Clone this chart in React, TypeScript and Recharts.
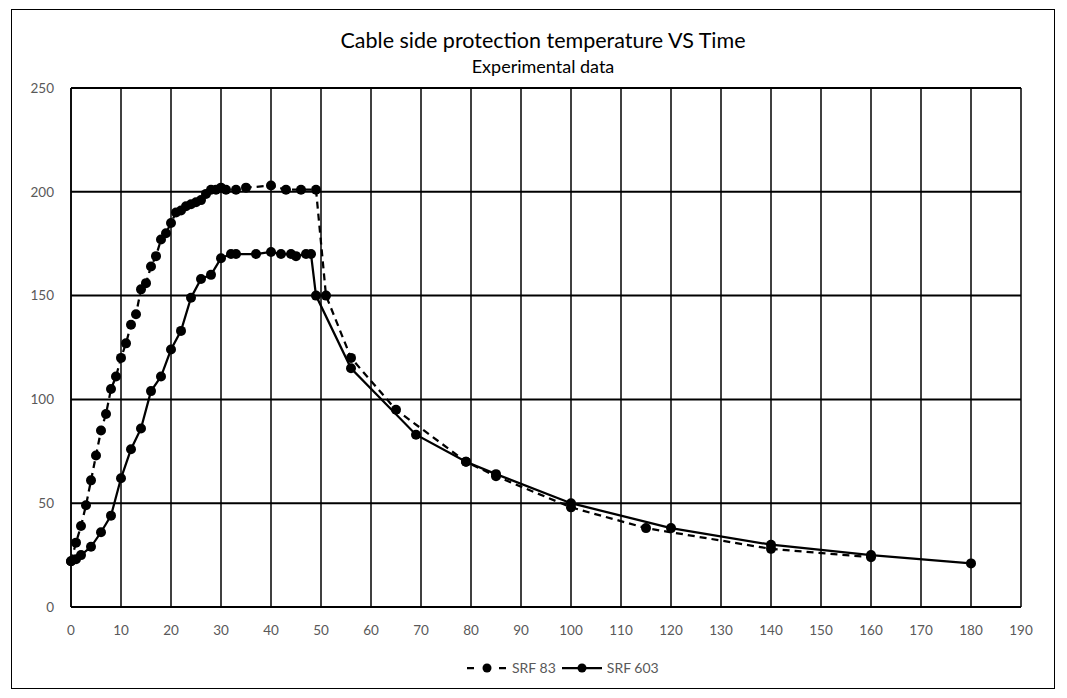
import React from 'react';
import { LineChart, Line, XAxis, YAxis, CartesianGrid } from 'recharts';

// SRF 83 (dashed)
const srf83Time = [0, 1, 2, 3, 4, 5, 6, 7, 8, 9, 10, 11, 12, 13, 14, 15, 16, 17, 18, 19, 20, 21, 22, 23, 24, 25, 26, 27, 28, 29, 30, 31, 33, 35, 40, 43, 46, 49, 51, 56, 65, 79, 85, 100, 115, 140, 160];
const srf83Temp = [22, 31, 39, 49, 61, 73, 85, 93, 105, 111, 120, 127, 136, 141, 153, 156, 164, 169, 177, 180, 185, 190, 191, 193, 194, 195, 196, 199, 201, 201, 202, 201, 201, 202, 203, 201, 201, 201, 150, 120, 95, 70, 63, 48, 38, 28, 24];

// SRF 603 (solid)
const srf603Time = [0, 1, 2, 4, 6, 8, 10, 12, 14, 16, 18, 20, 22, 24, 26, 28, 30, 32, 33, 37, 40, 42, 44, 45, 47, 48, 49, 56, 69, 79, 85, 100, 120, 140, 160, 180];
const srf603Temp = [22, 23, 25, 29, 36, 44, 62, 76, 86, 104, 111, 124, 133, 149, 158, 160, 168, 170, 170, 170, 171, 170, 170, 169, 170, 170, 150, 115, 83, 70, 64, 50, 38, 30, 25, 21];

const xTicks = [0, 10, 20, 30, 40, 50, 60, 70, 80, 90, 100, 110, 120, 130, 140, 150, 160, 170, 180, 190];
const yTicks = [0, 50, 100, 150, 200, 250];

const srf83Data = srf83Time.map((t, i) => ({ x: t, y: srf83Temp[i] }));
const srf603Data = srf603Time.map((t, i) => ({ x: t, y: srf603Temp[i] }));

const FONT = 'Lato, "Open Sans", sans-serif';
const tickStyle = { fill: '#595959', fontSize: 13.5, fontFamily: FONT };

const LegendItem: React.FC<{ dashed?: boolean; label: string }> = ({ dashed, label }) => (
  <span style={{ display: 'inline-flex', alignItems: 'center', marginRight: 4 }}>
    <svg width={44} height={12}>
      <line x1={2} y1={6} x2={42} y2={6} stroke="#000" strokeWidth={2.25} strokeDasharray={dashed ? '7 9' : undefined} />
      <circle cx={22} cy={6} r={4.5} fill="#000" />
    </svg>
    <span style={{ marginLeft: 3 }}>{label}</span>
  </span>
);

const App: React.FC = () => {
  return (
    <div style={{ position: 'relative', width: 1067, height: 698, background: '#fff', fontFamily: FONT }}>
      <style>{`body{margin:0}`}</style>
      <div style={{ position: 'absolute', left: 11, top: 9, width: 1042, height: 678, border: '1px solid #000' }} />
      <div style={{ position: 'absolute', top: 27, left: 0, width: 1086, textAlign: 'center', fontSize: 21.5, color: '#000' }}>
        Cable side protection temperature VS Time
      </div>
      <div style={{ position: 'absolute', top: 55, left: 0, width: 1086, textAlign: 'center', fontSize: 18, color: '#000' }}>
        Experimental data
      </div>
      <LineChart width={1067} height={698} margin={{ top: 88, right: 46, bottom: 61, left: 0 }} style={{ position: 'absolute', left: 0, top: 0 }}>
        <CartesianGrid horizontal={false} stroke="#000" strokeWidth={1.5} />
        <CartesianGrid vertical={false} stroke="#000" strokeWidth={2} />
        <XAxis
          type="number"
          dataKey="x"
          domain={[0, 190]}
          ticks={xTicks}
          interval={0}
          tickSize={0}
          tickMargin={18}
          axisLine={{ stroke: '#000', strokeWidth: 2 }}
          tick={tickStyle}
          allowDuplicatedCategory={false}
        />
        <YAxis
          type="number"
          dataKey="y"
          domain={[0, 250]}
          ticks={yTicks}
          width={71}
          tickSize={0}
          tickMargin={17}
          axisLine={{ stroke: '#000', strokeWidth: 1.5 }}
          tick={tickStyle}
        />
        <Line
          data={srf83Data}
          dataKey="y"
          type="linear"
          stroke="#000"
          strokeWidth={2.25}
          strokeDasharray="7 5"
          dot={{ r: 5, fill: '#000', stroke: '#000', strokeWidth: 0, strokeDasharray: '' }}
          isAnimationActive={false}
        />
        <Line
          data={srf603Data}
          dataKey="y"
          type="linear"
          stroke="#000"
          strokeWidth={2.25}
          dot={{ r: 5, fill: '#000', stroke: '#000', strokeWidth: 0 }}
          isAnimationActive={false}
        />
      </LineChart>
      <div style={{ position: 'absolute', top: 659, left: 465, display: 'flex', fontSize: 14, color: '#595959' }}>
        <LegendItem dashed label="SRF 83" />
        <LegendItem label="SRF 603" />
      </div>
    </div>
  );
};

export default App;
